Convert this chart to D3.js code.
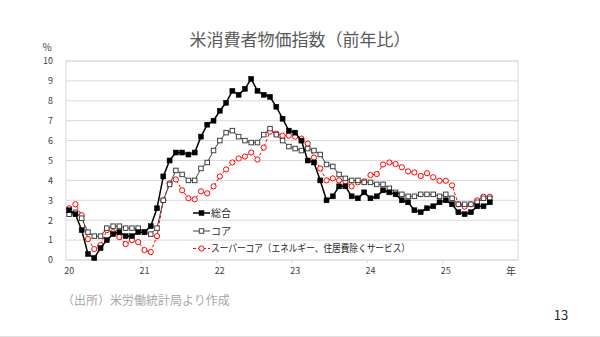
<!DOCTYPE html>
<html>
<head>
<meta charset="utf-8">
<script src="https://cdn.jsdelivr.net/npm/d3@7"></script>
<style>
  html, body { margin: 0; padding: 0; background: #fff; }
  svg { display: block; }
  text { font-family: "Noto Sans CJK JP", "Noto Sans", sans-serif; }
</style>
</head>
<body>
<svg id="chart" width="600" height="337"></svg>
<script>
// US CPI, year-over-year change (%), monthly Jan 2020 - Aug 2025
const yearLabels = ["20", "21", "22", "23", "24", "25"];
const startYear = 2020;
const monthCount = 68;

const headline = [
  2.5, 2.3, 1.5, 0.3, 0.1, 0.6, 1.0, 1.3, 1.4, 1.2, 1.2, 1.4,
  1.4, 1.7, 2.6, 4.2, 5.0, 5.4, 5.4, 5.3, 5.4, 6.2, 6.8, 7.0,
  7.5, 7.9, 8.5, 8.3, 8.6, 9.1, 8.5, 8.3, 8.2, 7.7, 7.1, 6.5,
  6.4, 6.0, 5.0, 4.9, 4.0, 3.0, 3.2, 3.7, 3.7, 3.2, 3.1, 3.4,
  3.1, 3.2, 3.5, 3.4, 3.3, 3.0, 2.9, 2.5, 2.4, 2.6, 2.7, 2.9,
  3.0, 2.8, 2.4, 2.3, 2.4, 2.7, 2.7, 2.9
];

const core = [
  2.3, 2.4, 2.1, 1.4, 1.2, 1.2, 1.6, 1.7, 1.7, 1.6, 1.6, 1.6,
  1.4, 1.3, 1.6, 3.0, 3.8, 4.5, 4.3, 4.0, 4.0, 4.6, 4.9, 5.5,
  6.0, 6.4, 6.5, 6.2, 6.0, 5.9, 5.9, 6.3, 6.6, 6.3, 6.0, 5.7,
  5.6, 5.5, 5.6, 5.5, 5.3, 4.8, 4.7, 4.3, 4.1, 4.0, 4.0, 3.9,
  3.9, 3.8, 3.8, 3.6, 3.4, 3.3, 3.2, 3.2, 3.3, 3.3, 3.3, 3.2,
  3.3, 3.1, 2.8, 2.8, 2.8, 2.9, 3.1, 3.1
];

const supercore = [
  2.6, 2.8, 2.25, 1.05, 0.55, 0.75, 1.5, 1.4, 1.15, 0.8, 1.0, 0.9,
  0.5, 0.4, 1.2, 3.0, 3.85, 4.05, 3.5, 3.1, 3.05, 3.45, 3.35, 3.7,
  4.2, 4.55, 4.9, 5.1, 5.2, 5.4, 5.05, 5.65, 6.45, 6.35, 6.25, 6.25,
  6.2, 6.1, 5.85, 5.15, 4.6, 4.0, 4.1, 4.0, 3.95, 3.7, 3.9, 3.95,
  4.27, 4.32, 4.8, 4.9, 4.82, 4.66, 4.45, 4.4, 4.22, 4.36, 4.16, 3.98,
  3.98, 3.75, 2.8, 2.68, 2.8, 3.0, 3.18, 3.18
];

const seriesNames = ["総合", "コア", "スーパーコア（エネルギー、住居費除くサービス）"];
const yTicks = d3.range(0, 11);

// month keys "2020-01" ... for the band scale (6 full years on the axis)
const allMonths = d3.range(yearLabels.length * 12).map(i =>
  `${startYear + Math.floor(i / 12)}-${String(i % 12 + 1).padStart(2, "0")}`);

const plot = { left: 66, right: 518, top: 61, bottom: 260 };

const svg = d3.select("#chart");

const x = d3.scaleBand().domain(allMonths).range([plot.left, plot.right]).padding(0);
const y = d3.scaleLinear().domain([0, 10]).range([plot.bottom, plot.top]);
const cx = i => x(allMonths[i]) + x.bandwidth() / 2;

// title
svg.append("text")
  .attr("x", 300).attr("y", 46)
  .attr("text-anchor", "middle")
  .attr("font-size", 17)
  .attr("fill", "#595959")
  .text("米消費者物価指数（前年比）");

// horizontal gridlines
svg.append("g")
  .selectAll("line")
  .data(yTicks)
  .join("line")
  .attr("x1", plot.left).attr("x2", plot.right)
  .attr("y1", d => y(d)).attr("y2", d => y(d))
  .attr("stroke", "#d9d9d9").attr("stroke-width", 1);

// plot frame
svg.append("rect")
  .attr("x", plot.left).attr("y", plot.top)
  .attr("width", plot.right - plot.left).attr("height", plot.bottom - plot.top)
  .attr("fill", "none").attr("stroke", "#d9d9d9").attr("stroke-width", 1);

// y axis labels
const yAxis = d3.axisLeft(y).tickValues(yTicks).tickSize(0).tickPadding(0).tickFormat(d3.format("d"));
const gy = svg.append("g").attr("transform", `translate(${plot.left - 13},0)`).call(yAxis);
gy.select(".domain").remove();
gy.selectAll("text").attr("font-size", 9).attr("fill", "#404040")
  .attr("font-family", "'Liberation Sans', sans-serif");

svg.append("text")
  .attr("x", 47).attr("y", 51)
  .attr("text-anchor", "middle")
  .attr("font-size", 10).attr("fill", "#404040")
  .text("%");

// x axis: small tick marks at year boundaries, labels on each January
const yearStarts = allMonths.filter((m, i) => i % 12 === 0);
const xAxis = d3.axisBottom(x).tickValues(yearStarts).tickSize(0).tickPadding(8)
  .tickFormat((d, i) => yearLabels[i]);
const gx = svg.append("g").attr("transform", `translate(0,${plot.bottom})`).call(xAxis);
gx.select(".domain").remove();
gx.selectAll("text").attr("font-size", 9).attr("fill", "#404040")
  .attr("font-family", "'Liberation Sans', sans-serif");

svg.append("g")
  .selectAll("line")
  .data(yearStarts.slice(1))
  .join("line")
  .attr("x1", d => x(d)).attr("x2", d => x(d))
  .attr("y1", plot.bottom).attr("y2", plot.bottom + 3)
  .attr("stroke", "#d9d9d9");

svg.append("text")
  .attr("x", 511).attr("y", 275)
  .attr("text-anchor", "middle")
  .attr("font-size", 10).attr("fill", "#404040")
  .text("年");

// series styles
const styles = [
  { values: headline, stroke: "#000", width: 1.5, dash: null, marker: "square", fill: "#000", mstroke: "#000" },
  { values: core, stroke: "#404040", width: 1, dash: null, marker: "square", fill: "#fff", mstroke: "#404040" },
  { values: supercore, stroke: "#ff0000", width: 1, dash: "3,2", marker: "circle", fill: "#fff", mstroke: "#ff0000" }
];

const line = d3.line().x((d, i) => cx(i)).y(d => y(d));

function drawMarker(g, s, px, py) {
  if (s.marker === "square") {
    const sz = s.fill === "#000" ? 5 : 4.5;
    g.append("rect")
      .attr("x", px - sz / 2).attr("y", py - sz / 2)
      .attr("width", sz).attr("height", sz)
      .attr("fill", s.fill).attr("stroke", s.mstroke).attr("stroke-width", s.fill === "#000" ? 0.5 : 1);
  } else {
    g.append("circle")
      .attr("cx", px).attr("cy", py).attr("r", 2.6)
      .attr("fill", s.fill).attr("stroke", s.mstroke).attr("stroke-width", 1);
  }
}

// draw so the headline ends up on top
[2, 1, 0].forEach(k => {
  const s = styles[k];
  const g = svg.append("g");
  g.append("path")
    .datum(s.values.slice(0, monthCount))
    .attr("d", line)
    .attr("fill", "none")
    .attr("stroke", s.stroke).attr("stroke-width", s.width)
    .attr("stroke-dasharray", s.dash);
  s.values.slice(0, monthCount).forEach((v, i) => drawMarker(g, s, cx(i), y(v)));
});

// legend
const legendRows = [213, 231, 248.5];
styles.forEach((s, k) => {
  const g = svg.append("g");
  const ly = legendRows[k];
  g.append("line")
    .attr("x1", 193).attr("x2", 210).attr("y1", ly).attr("y2", ly)
    .attr("stroke", s.stroke).attr("stroke-width", s.width)
    .attr("stroke-dasharray", s.dash);
  drawMarker(g, s, 201.5, ly);
  const t = g.append("text")
    .attr("x", 211).attr("y", ly + 3.5)
    .attr("font-size", 10).attr("fill", "#262626")
    .text(seriesNames[k]);
  if (k === 2) t.attr("textLength", 199).attr("lengthAdjust", "spacingAndGlyphs");
});

// source note and page number
svg.append("text")
  .attr("x", 62).attr("y", 305)
  .attr("font-size", 12).attr("fill", "#a6a6a6")
  .text("（出所）米労働統計局より作成");

svg.append("text")
  .attr("x", 561).attr("y", 320)
  .attr("text-anchor", "middle")
  .attr("font-size", 13).attr("fill", "#262626")
  .attr("font-family", "'Liberation Sans', sans-serif")
  .text("13");

svg.append("line")
  .attr("x1", 0).attr("x2", 600).attr("y1", 336.5).attr("y2", 336.5)
  .attr("stroke", "#e0e0e0");
</script>
</body>
</html>
